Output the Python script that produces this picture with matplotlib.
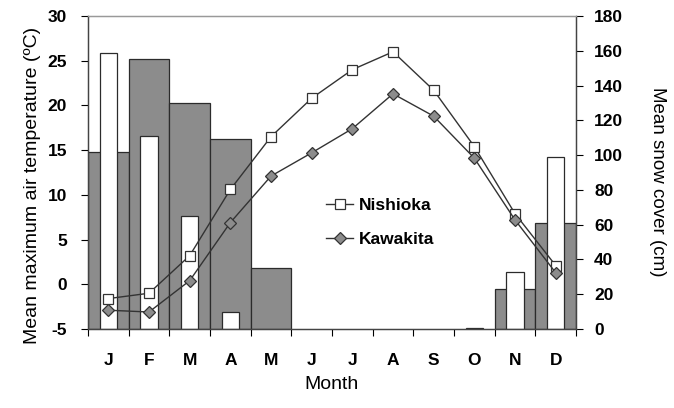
import matplotlib
matplotlib.use("Agg")
import matplotlib.pyplot as plt
import numpy as np

plt.rcParams['font.family'] = ['Liberation Sans', 'DejaVu Sans']

months = ["J", "F", "M", "A", "M", "J", "J", "A", "S", "O", "N", "D"]

# mean maximum air temperature (deg C)
temp_nishioka = [-1.6, -1.0, 3.2, 10.6, 16.5, 20.8, 24.0, 26.0, 21.7, 15.4, 7.9, 2.1]
temp_kawakita = [-2.9, -3.1, 0.4, 6.9, 12.1, 14.7, 17.4, 21.3, 18.8, 14.1, 7.2, 1.3]

# mean snow cover (cm)
snow_nishioka = [159, 111, 65, 10, 0, 0, 0, 0, 0, 0.6, 33, 99]
snow_kawakita = [102, 155, 130, 109, 35, 0, 0, 0, 0, 0, 23, 61]

x = np.arange(len(months))
bold = dict(fontsize=12.5, fontweight='bold')


def no_zero(vals):
    # months without snow get no bar at all
    v = np.asarray(vals, dtype=float)
    return np.where(v > 0, v, np.nan)


fig = plt.figure(figsize=(6.74, 4.08), dpi=100)
ax = fig.add_axes([88/674, 1-329/408, 488/674, 313/408])
ax2 = ax.twinx()

# snow bars on the right axis
ax2.bar(x, no_zero(snow_kawakita), width=1.0, color='#8c8c8c', edgecolor='#2b2b2b', linewidth=0.9)
ax2.bar(x, no_zero(snow_nishioka), width=0.42, color='white', edgecolor='#2b2b2b', linewidth=0.9)
ax2.set_ylim(0, 180)
ax2.set_yticks(np.arange(0, 181, 20))
ax2.set_yticklabels([str(v) for v in range(0, 181, 20)], **bold)
ax2.set_ylabel("Mean snow cover (cm)", fontsize=13.5, rotation=-90, labelpad=31)
ax2.yaxis.label.set_y(0.47)

# temperature lines on the left axis, drawn above the bars
ax.set_zorder(ax2.get_zorder() + 1)
ax.patch.set_visible(False)
ax.plot(x, temp_nishioka, color='#333333', lw=1.0, marker='s', markersize=7.5,
        markerfacecolor='white', markeredgecolor='#333333', markeredgewidth=0.9,
        label='Nishioka')
ax.plot(x, temp_kawakita, color='#333333', lw=1.0, marker='D', markersize=6,
        markerfacecolor='#8c8c8c', markeredgecolor='#333333', markeredgewidth=0.9,
        label='Kawakita')
ax.set_ylim(-5, 30)
ax.set_yticks(np.arange(-5, 31, 5))
ax.set_yticklabels([str(v) for v in range(-5, 31, 5)], **bold)
ax.set_ylabel("Mean maximum air temperature (ºC)", fontsize=14, labelpad=5)
ax.yaxis.label.set_y(0.46)

ax.set_xlim(-0.5, 11.5)
ax.set_xticks(np.arange(-0.5, 12, 1))
ax.set_xticklabels([])
ax.set_xticks(x, minor=True)
ax.set_xticklabels(months, minor=True, **bold)
ax.tick_params(axis='x', which='minor', length=0, pad=17)
ax.tick_params(axis='x', which='major', length=5, direction='out')
ax.set_xlabel("Month", fontsize=14, labelpad=6)

ax.tick_params(axis='y', length=5, direction='out', width=0.8, pad=10)
ax2.tick_params(axis='y', length=5, direction='out', width=0.8, pad=8)
for a in (ax, ax2):
    for s in a.spines.values():
        s.set_color('#444444')
        s.set_linewidth(0.9)
ax.spines['top'].set_color('#999999')
ax2.spines['top'].set_color('#999999')

leg = ax.legend(loc='upper left', bbox_to_anchor=(0.455, 0.47), frameon=False,
                handlelength=1.6, handletextpad=0.3, labelspacing=1.1,
                prop=dict(size=12.5, weight='bold'))

fig.savefig("out.png", dpi=100)
